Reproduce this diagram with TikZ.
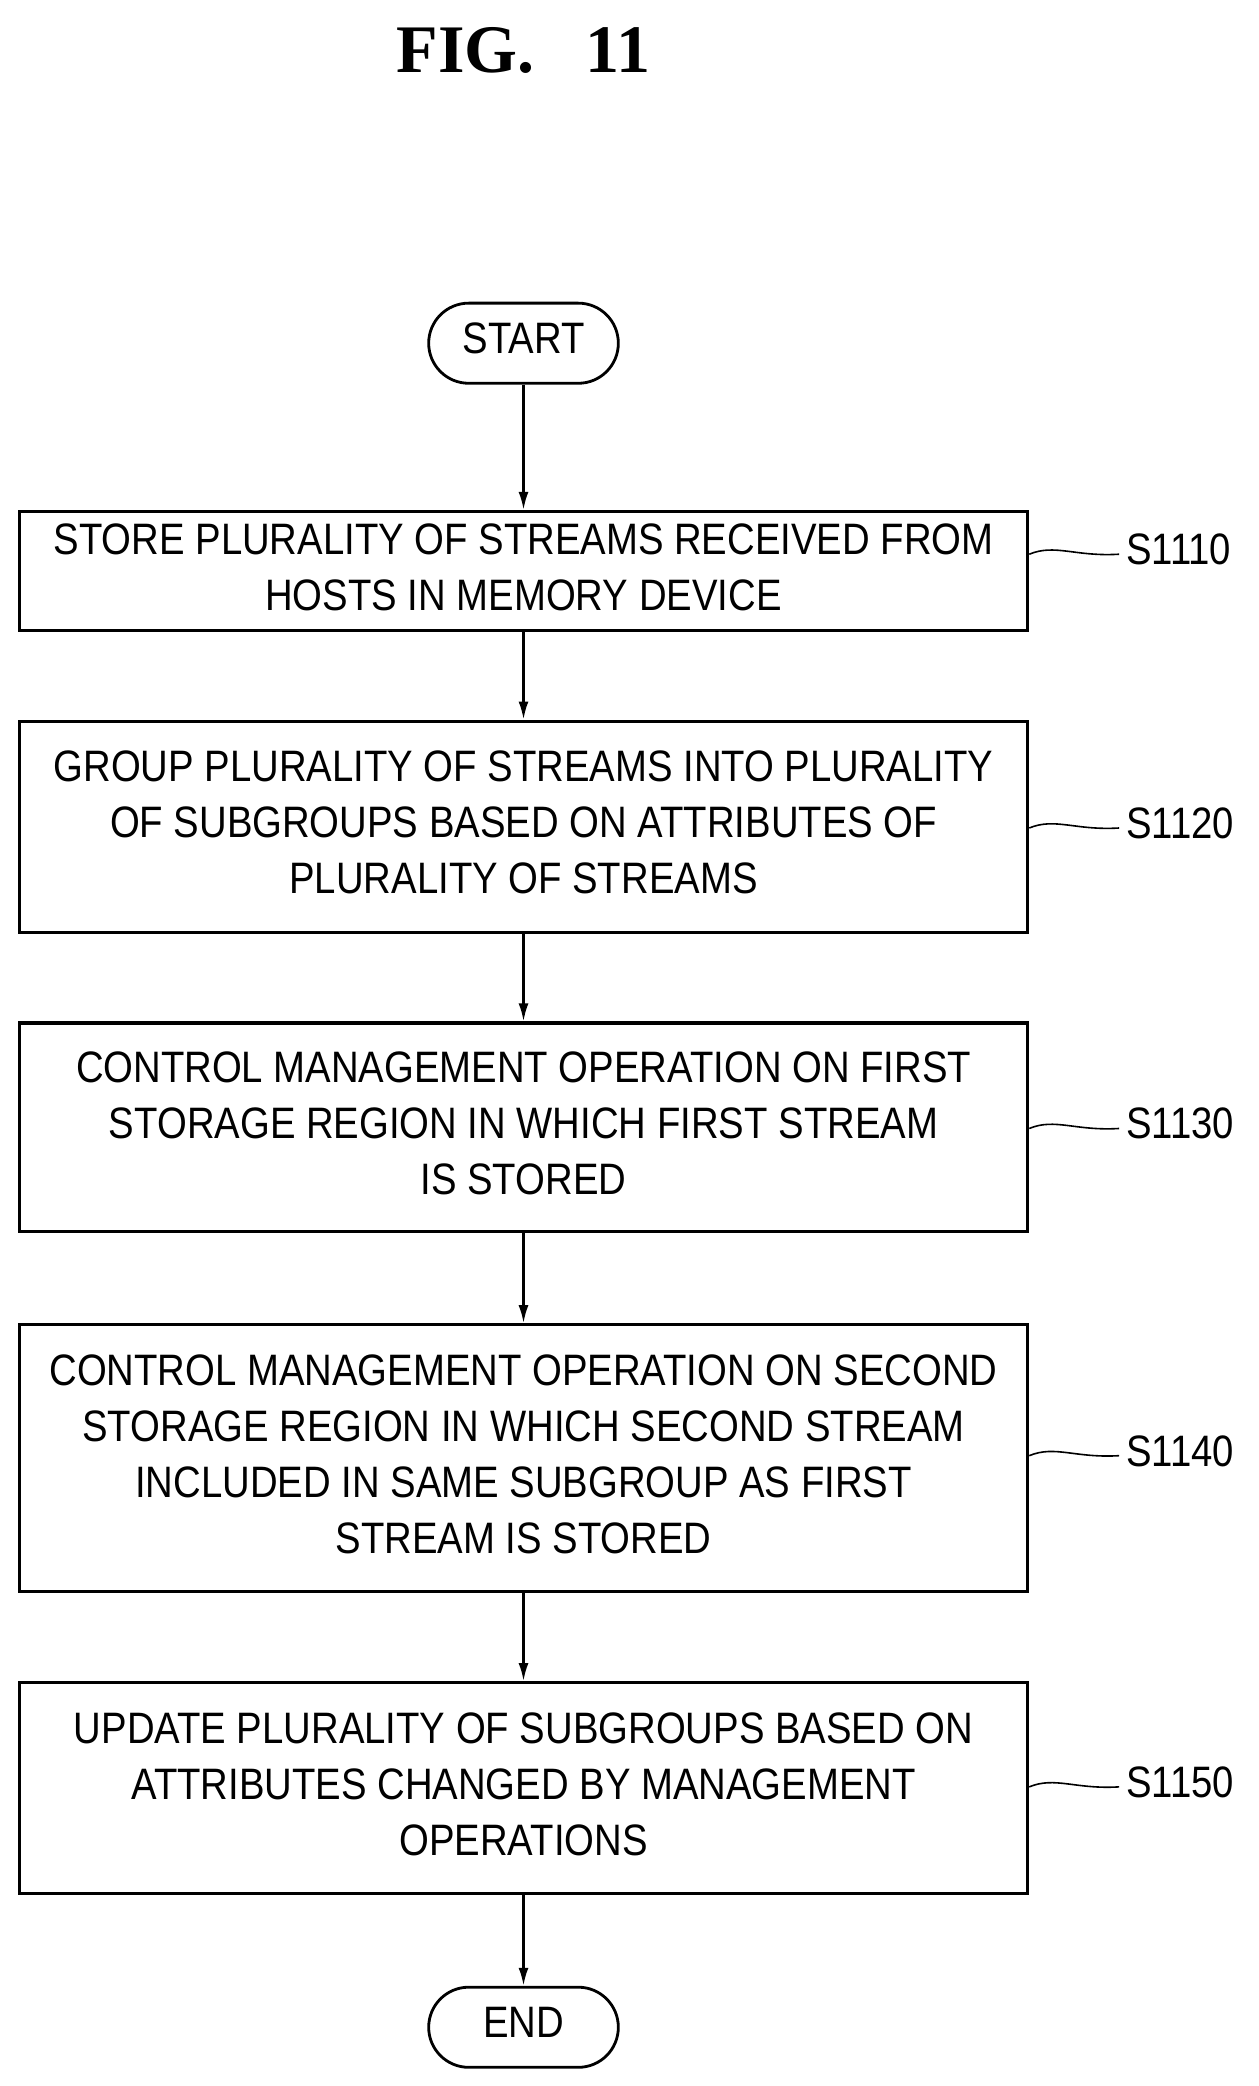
\documentclass[tikz,border=0pt]{standalone}
\usepackage{fontspec}
\setmainfont{Liberation Sans}
\newfontfamily\titlefont{Liberation Serif}
\usepackage{graphicx}
\usetikzlibrary{arrows.meta}
\newcommand{\sq}[1]{\scalebox{0.87}[1]{\begin{tabular}{@{}c@{}}#1\end{tabular}}}
\begin{document}
\begin{tikzpicture}[x=0.6675pt,y=-0.6675pt,
  box/.style={draw,line width=1.6pt,minimum width=755*0.6675pt,inner sep=0pt,font=\fontsize{22}{28}\selectfont},
  term/.style={draw,line width=1.4pt,rounded corners=20pt,minimum width=142*0.6675pt,minimum height=60*0.6675pt,font=\fontsize{22}{26}\selectfont},
  lab/.style={font=\fontsize{22}{26}\selectfont,anchor=west},
  arr/.style={line width=1.2pt,-{Latex[length=9pt,width=5pt]}},
  lead/.style={line width=0.8pt}]
\useasboundingbox (0,0) rectangle (942,1562);
\node[font=\titlefont\bfseries\fontsize{34}{38}\selectfont] (title) at (392,38) {FIG.\ \ \ 11};
\node[term] (start) at (392,257) {\sq{START}};
\node[box,minimum height=89*0.6675pt] (b1) at (392,427.5) {\sq{STORE PLURALITY OF STREAMS RECEIVED FROM\\HOSTS IN MEMORY DEVICE}};
\node[box,minimum height=158*0.6675pt] (b2) at (392,619) {\sq{GROUP PLURALITY OF STREAMS INTO PLURALITY\\OF SUBGROUPS BASED ON ATTRIBUTES OF\\PLURALITY OF STREAMS}};
\node[box,minimum height=156*0.6675pt] (b3) at (392,844) {\sq{CONTROL MANAGEMENT OPERATION ON FIRST\\STORAGE REGION IN WHICH FIRST STREAM\\IS STORED}};
\node[box,minimum height=200*0.6675pt] (b4) at (392,1092) {\sq{CONTROL MANAGEMENT OPERATION ON SECOND\\STORAGE REGION IN WHICH SECOND STREAM\\INCLUDED IN SAME SUBGROUP AS FIRST\\STREAM IS STORED}};
\node[box,minimum height=158*0.6675pt] (b5) at (392,1339) {\sq{UPDATE PLURALITY OF SUBGROUPS BASED ON\\ATTRIBUTES CHANGED BY MANAGEMENT\\OPERATIONS}};
\node[term] (end) at (392,1518) {\sq{END}};
\draw[arr] (start) -- (b1);
\draw[arr] (b1) -- (b2);
\draw[arr] (b2) -- (b3);
\draw[arr] (b3) -- (b4);
\draw[arr] (b4) -- (b5);
\draw[arr] (b5) -- (end);
\foreach \b/\y/\t in {b1/415/S1110,b2/620/S1120,b3/845/S1130,b4/1090/S1140,b5/1338/S1150}{
  \node[lab] (l\t) at (838,\y) {\sq{\t}};
  \draw[lead] (\b.east |- 0,\y) .. controls (790,\y-8) and (805,\y+2) .. (l\t.west);
}
\end{tikzpicture}
\end{document}
